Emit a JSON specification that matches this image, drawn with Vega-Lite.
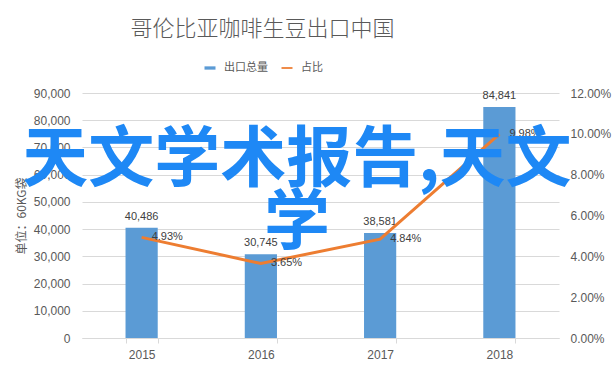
{
  "$schema": "https://vega.github.io/schema/vega-lite/v6.json",
  "width": 477,
  "height": 245,
  "autosize": {"type": "none"},
  "padding": {"left": 82, "top": 93, "right": 57, "bottom": 31},
  "background": "white",
  "config": {
    "view": {"stroke": null},
    "font": "Noto Sans CJK SC",
    "axis": {"labelFont": "Liberation Sans", "labelColor": "#595959", "labelFontSize": 12}
  },
  "title": {
    "text": "哥伦比亚咖啡生豆出口中国",
    "fontSize": 22,
    "fontWeight": 300,
    "color": "#595959",
    "font": "Noto Sans CJK SC",
    "dx": -58,
    "offset": 16
  },
  "data": {
    "values": [
      {"year": "2015", "volume": 40486, "share": 0.0493},
      {"year": "2016", "volume": 30745, "share": 0.0365},
      {"year": "2017", "volume": 38581, "share": 0.0484},
      {"year": "2018", "volume": 84841, "share": 0.0998}
    ]
  },
  "encoding": {
    "x": {
      "field": "year",
      "type": "nominal",
      "scale": {"paddingInner": 0.73, "paddingOuter": 0.365},
      "axis": {
        "title": null,
        "labelAngle": 0,
        "domainColor": "#D9D9D9",
        "tickColor": "#D9D9D9",
        "tickSize": 5,
        "tickBand": "extent",
        "labelPadding": 6,
        "grid": false
      }
    }
  },
  "layer": [
    {
      "encoding": {
        "y": {
          "field": "volume",
          "type": "quantitative",
          "scale": {"domain": [0, 90000]},
          "axis": {
            "title": "单位：60KG袋",
            "format": ",.0f",
            "values": [0, 10000, 20000, 30000, 40000, 50000, 60000, 70000, 80000, 90000],
            "grid": true,
            "gridColor": "#D9D9D9",
            "domain": false,
            "ticks": false,
            "labelPadding": 12,
            "titleColor": "#595959",
            "titleFontSize": 12,
            "titleFontWeight": "normal",
            "titleFont": "Noto Sans CJK SC",
            "titlePadding": 5
          }
        }
      },
      "layer": [
        {
          "mark": {"type": "bar", "color": "#5B9BD5"},
          "encoding": {
            "color": {
              "datum": "出口总量",
              "type": "nominal",
              "scale": {"domain": ["出口总量", "占比"], "range": ["#5B9BD5", "#ED7D31"]},
              "legend": {
                "title": null,
                "orient": "none",
                "legendX": 117,
                "legendY": -36,
                "direction": "horizontal",
                "symbolSize": 484,
                "labelFontSize": 11,
                "labelColor": "#595959",
                "columnPadding": 8,
                "labelOffset": 3,
                "encode": {
                  "symbols": {
                    "update": {
                      "shape": {"signal": "datum.value === '占比' ? 'M-0.5,-0.08H0.5V0.08H-0.5Z' : 'M-0.5,-0.15H0.5V0.15H-0.5Z'"},
                      "fill": {"signal": "datum.value === '占比' ? '#ED7D31' : '#5B9BD5'"},
                      "strokeWidth": {"value": 0},
                      "opacity": {"value": 1}
                    }
                  }
                }
              }
            }
          }
        },
        {
          "mark": {"type": "text", "baseline": "bottom", "dy": -6, "fontSize": 11, "color": "#404040", "font": "Liberation Sans"},
          "encoding": {
            "text": {"field": "volume", "type": "quantitative", "format": ","}
          }
        }
      ]
    },
    {
      "encoding": {
        "y": {
          "field": "share",
          "type": "quantitative",
          "scale": {"domain": [0, 0.12]},
          "axis": {
            "orient": "right",
            "format": ".2%",
            "values": [0, 0.02, 0.04, 0.06, 0.08, 0.1, 0.12],
            "grid": false,
            "domain": false,
            "ticks": false,
            "labelPadding": 11,
            "title": null
          }
        }
      },
      "layer": [
        {
          "mark": {"type": "line", "strokeWidth": 3, "color": "#ED7D31"},
          "encoding": {
            "color": {"datum": "占比", "type": "nominal"}
          }
        },
        {
          "mark": {"type": "text", "align": "left", "baseline": "middle", "dx": 10, "fontSize": 11, "color": "#404040", "font": "Liberation Sans"},
          "encoding": {
            "text": {"field": "share", "type": "quantitative", "format": ".2%"}
          }
        }
      ]
    },
    {
      "data": {"values": [{"wm": "天文学术报告,天文\n学"}]},
      "mark": {
        "type": "text",
        "fontSize": 66,
        "fontWeight": "bold",
        "color": "#1E88F5",
        "align": "center",
        "baseline": "middle",
        "lineBreak": "\n",
        "lineHeight": 63,
        "dx": 36,
        "dy": -55,
        "font": "Noto Sans CJK SC"
      },
      "encoding": {
        "x": {"datum": "2016", "type": "nominal"},
        "text": {"field": "wm", "type": "nominal"}
      }
    }
  ],
  "resolve": {"scale": {"y": "independent"}}
}
